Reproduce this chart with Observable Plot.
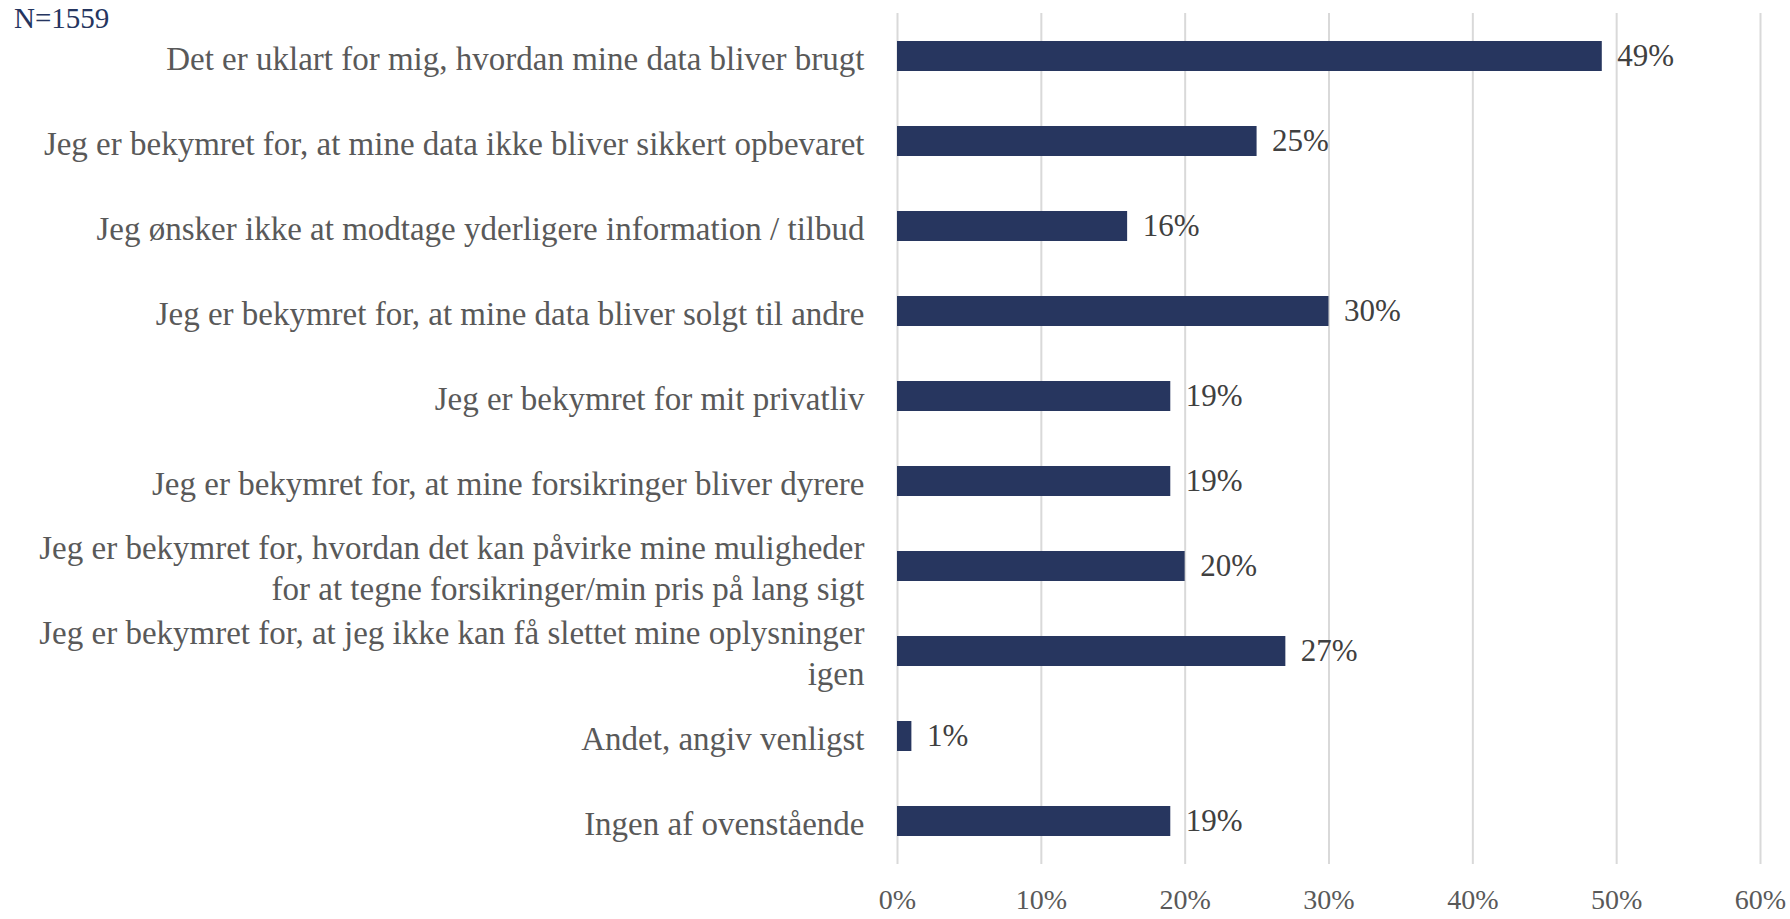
<!DOCTYPE html>
<html>
<head>
<meta charset="utf-8">
<script src="https://cdn.jsdelivr.net/npm/d3@7"></script>
<script src="https://cdn.jsdelivr.net/npm/@observablehq/plot@0.6"></script>
<style>
  html, body { margin: 0; padding: 0; background: #fff; }
  #chart { position: relative; width: 1790px; height: 919px; }
  #n { position: absolute; left: 14px; top: 2px; font-family: "Liberation Serif", serif; font-size: 29px; color: #25355f; }
  #chart svg text { font-family: "Liberation Serif", serif; }
</style>
</head>
<body>
<div id="chart"><div id="n"></div></div>
<script>
const sampleLabel = "N=1559";
const categories = [
  "Det er uklart for mig, hvordan mine data bliver brugt",
  "Jeg er bekymret for, at mine data ikke bliver sikkert opbevaret",
  "Jeg ønsker ikke at modtage yderligere information / tilbud",
  "Jeg er bekymret for, at mine data bliver solgt til andre",
  "Jeg er bekymret for mit privatliv",
  "Jeg er bekymret for, at mine forsikringer bliver dyrere",
  "Jeg er bekymret for, hvordan det kan påvirke mine muligheder\nfor at tegne forsikringer/min pris på lang sigt",
  "Jeg er bekymret for, at jeg ikke kan få slettet mine oplysninger\nigen",
  "Andet, angiv venligst",
  "Ingen af ovenstående"
];
const values = [0.49, 0.25, 0.16, 0.30, 0.19, 0.19, 0.20, 0.27, 0.01, 0.19];
const xTicks = [0, 0.1, 0.2, 0.3, 0.4, 0.5, 0.6];

const data = categories.map((c, i) => ({category: c, value: values[i]}));
const pct = d3.format(".0%");
const serif = "Liberation Serif";

const chart = Plot.plot({
  width: 1790,
  height: 919,
  marginLeft: 897,
  marginRight: 30,
  marginTop: 13,
  marginBottom: 55,
  style: "font-family: 'Liberation Serif', serif; font-size: 30px; color: #595959; background: #fff;",
  x: {domain: [0, 0.6], ticks: xTicks, tickFormat: pct, grid: false, label: null},
  y: {domain: categories, paddingInner: 0.65, paddingOuter: 0.325, label: null},
  marks: [
    Plot.gridX(xTicks, {stroke: "#d9d9d9", strokeOpacity: 1, strokeWidth: 2}),
    Plot.barX(data, {x: "value", y: "category", fill: "#27365f"}),
    Plot.text(data, {x: "value", y: "category", text: d => pct(d.value), textAnchor: "start", dx: 15, fill: "#404040", fontSize: 31, fontFamily: serif}),
    Plot.axisX({ticks: xTicks, tickFormat: pct, tickSize: 0, tickPadding: 25, fontSize: 28, fontFamily: serif, fill: "#595959", label: null}),
    Plot.axisY({tickSize: 0, tickPadding: 33, fontSize: 33, fontFamily: serif, fill: "#595959", lineHeight: 1.25, label: null})
  ]
});
document.getElementById("chart").appendChild(chart);
document.getElementById("n").textContent = sampleLabel;
</script>
</body>
</html>
